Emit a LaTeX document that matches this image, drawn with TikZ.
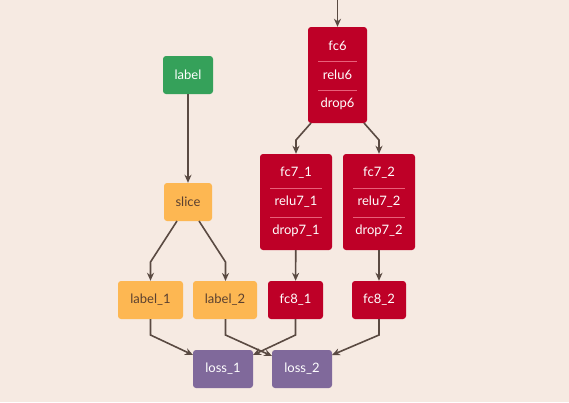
\documentclass[tikz,border=0pt]{standalone}
\usepackage{fontspec}
\setmainfont{Lato}
\usetikzlibrary{arrows.meta}
\definecolor{bg}{HTML}{F6EAE2}
\definecolor{redn}{HTML}{BE0027}
\definecolor{greenn}{HTML}{35A15A}
\definecolor{orangen}{HTML}{FDB752}
\definecolor{purplen}{HTML}{80699B}
\definecolor{edgec}{HTML}{5A4A42}
\definecolor{sepc}{HTML}{E8607A}
\definecolor{darktext}{HTML}{5A4030}
\tikzset{
  box/.style={rounded corners=3pt, inner sep=0pt, font=\fontsize{13}{15}\selectfont},
  redbox/.style={box, fill=redn, text=white},
  greenbox/.style={box, fill=greenn, text=white},
  orangebox/.style={box, fill=orangen, text=darktext},
  purplebox/.style={box, fill=purplen, text=white},
  lbl/.style={inner sep=0pt, font=\fontsize{13}{15}\selectfont, text=white},
  sep/.style={draw=sepc, line width=0.7pt},
  edge/.style={draw=edgec, line width=1.6pt, -{Stealth[length=8pt,width=7pt,inset=2.5pt]}},
}
\begin{document}
\begin{tikzpicture}[x=1pt,y=-1pt]
\fill[bg] (0,0) rectangle (569,402);
\useasboundingbox (0,0) rectangle (569,402);

% simple nodes
\node[greenbox, minimum width=50pt, minimum height=38pt] (label) at (188,75) {label};
\node[orangebox, minimum width=48pt, minimum height=38pt] (slice) at (188,202) {slice};
\node[orangebox, minimum width=65pt, minimum height=38pt] (label1) at (150.5,300) {label\_1};
\node[orangebox, minimum width=64pt, minimum height=38pt] (label2) at (225,300) {label\_2};
\node[redbox, minimum width=55pt, minimum height=38pt] (fc81) at (295.5,300) {fc8\_1};
\node[redbox, minimum width=54pt, minimum height=38pt] (fc82) at (379,300) {fc8\_2};
\node[purplebox, minimum width=60pt, minimum height=38pt] (loss1) at (223,369) {loss\_1};
\node[purplebox, minimum width=60pt, minimum height=38pt] (loss2) at (302,369) {loss\_2};

% compound nodes
\node[redbox, minimum width=59pt, minimum height=96pt] (fc6) at (337.5,75) {};
\node[lbl] (fc6a) at (337.5,46) {fc6};
\node[lbl] (fc6b) at (337.5,75) {relu6};
\node[lbl] (fc6c) at (337.5,104) {drop6};
\draw[sep] (318,61) -- (357,61);
\draw[sep] (318,90) -- (357,90);

\node[redbox, minimum width=72pt, minimum height=96pt] (fc71) at (296,202) {};
\node[lbl] (fc71a) at (296,173) {fc7\_1};
\node[lbl] (fc71b) at (296,202) {relu7\_1};
\node[lbl] (fc71c) at (296,231) {drop7\_1};
\draw[sep] (270,188) -- (322,188);
\draw[sep] (270,217) -- (322,217);

\node[redbox, minimum width=72pt, minimum height=96pt] (fc72) at (379,202) {};
\node[lbl] (fc72a) at (379,173) {fc7\_2};
\node[lbl] (fc72b) at (379,202) {relu7\_2};
\node[lbl] (fc72c) at (379,231) {drop7\_2};
\draw[sep] (353,188) -- (405,188);
\draw[sep] (353,217) -- (405,217);

% edges
\coordinate (top) at (337.5,0);
\draw[edge] (top) -- (fc6.north);
\draw[edge] (label) -- (slice);
\draw[edge] (311,123) -- (296,140) -- (fc71.north);
\draw[edge] (364,123) -- (379,140) -- (fc72.north);
\draw[edge] (177,221) -- (150.5,262) -- (label1.north);
\draw[edge] (199,221) -- (225.5,262) -- (225.5,281);
\draw[edge] (fc71) -- (fc81);
\draw[edge] (fc72) -- (fc82);
\draw[edge] (label1.south) -- (150.5,335) -- (193,355);
\draw[edge] (225.5,319) -- (225.5,335) -- (272,356);
\draw[edge] (fc81.south) -- (295.5,335) -- (253,355);
\draw[edge] (fc82.south) -- (379,335) -- (332,355);
\end{tikzpicture}
\end{document}
